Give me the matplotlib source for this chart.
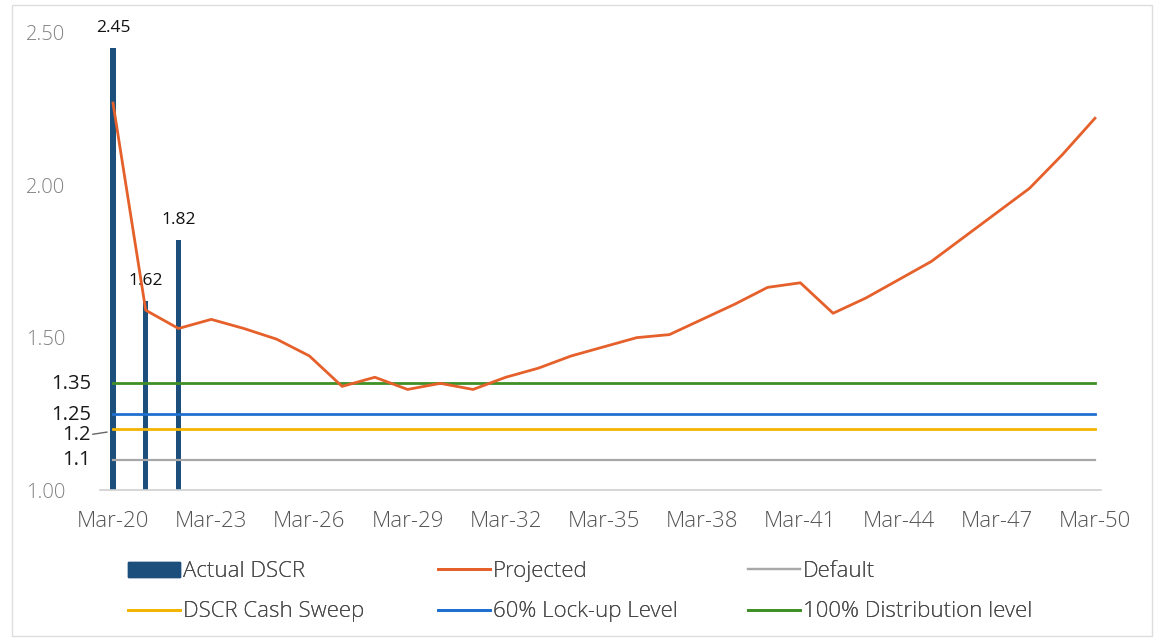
import matplotlib
matplotlib.use("Agg")
import matplotlib.pyplot as plt
import matplotlib.patches as mpatches
from matplotlib.lines import Line2D
import matplotlib.transforms as mtransforms

# ---------------- data ----------------
years = list(range(2020, 2051))
actual_years = [2020, 2021, 2022]
actual_dscr = [2.45, 1.62, 1.82]
projected = [2.27, 1.59, 1.53, 1.56, 1.53, 1.495, 1.44, 1.34, 1.37, 1.33,
             1.35, 1.33, 1.37, 1.40, 1.44, 1.47, 1.50, 1.51, 1.56, 1.61,
             1.665, 1.68, 1.58, 1.63, 1.69, 1.75, 1.83, 1.91, 1.99, 2.10, 2.22]
default_level = 1.1
cash_sweep_level = 1.2
lockup_level = 1.25
distribution_level = 1.35
xtick_years = list(range(2020, 2051, 3))
xtick_labels = ["Mar-%02d" % (y % 100) for y in xtick_years]
ytick_vals = [1.00, 1.50, 2.00, 2.50]
ytick_labels = ["1.00", "1.50", "2.00", "2.50"]
level_labels = ["1.35", "1.25", "1.2", "1.1"]
level_vals = [distribution_level, lockup_level, cash_sweep_level, default_level]

# ---------------- style ----------------
plt.rcParams['font.family'] = ['Open Sans', 'DejaVu Sans']
plt.rcParams['font.weight'] = 300

C_BAR = "#1d4f7c"
C_PROJ = "#e5602a"
C_DEF = "#a8a8a8"
C_SWEEP = "#f4b400"
C_LOCK = "#1f6fcf"
C_DIST = "#3f8f26"

W, H = 1164, 643
fig = plt.figure(figsize=(W / 100, H / 100), dpi=100)
fig.patch.set_facecolor("white")

left_px, right_px = 99.9, 1101.5
top_px, bot_px = 17.7, 490
ax = fig.add_axes([left_px / W, 1 - bot_px / H, (right_px - left_px) / W, (bot_px - top_px) / H])

bars = ax.bar(actual_years, actual_dscr, width=0.16, color=C_BAR, zorder=2)
ax.bar_label(bars, labels=["%.2f" % v for v in actual_dscr], padding=9,
             fontsize=12.5, color="#111111", fontweight="normal")

n = len(years)
ax.plot(years, [default_level] * n, color=C_DEF, lw=1.6, zorder=3)
ax.plot(years, [cash_sweep_level] * n, color=C_SWEEP, lw=2.0, zorder=3)
ax.plot(years, [lockup_level] * n, color=C_LOCK, lw=2.0, zorder=3)
ax.plot(years, [distribution_level] * n, color=C_DIST, lw=2.0, zorder=3)
ax.plot(years, projected, color=C_PROJ, lw=2.0, zorder=4)

ax.set_xlim(2019.6, 2050.2)
ax.set_ylim(1.0, 2.55)
ax.set_xticks(xtick_years)
ax.set_xticklabels(xtick_labels, fontsize=16, color="#555555")
ax.set_yticks(ytick_vals)
ax.set_yticklabels(ytick_labels, fontsize=14.5, color="#808080")
ax.tick_params(axis="x", length=0, pad=15)
ax.tick_params(axis="y", length=0, pad=25)
for s in ["top", "right", "left"]:
    ax.spines[s].set_visible(False)
ax.spines["bottom"].set_color("#d0d0d0")
ax.spines["bottom"].set_linewidth(1.2)

# extra level labels on the left
trans = mtransforms.blended_transform_factory(ax.transAxes, ax.transData)
offsets = [-0.003, -0.005, -0.018, -0.003]
for lab, v, off in zip(level_labels, level_vals, offsets):
    ax.text(-0.009, v + off, lab, transform=trans, ha="right", va="center",
            fontsize=14.5, color="#1a1a1a", fontweight="normal", clip_on=False)
ax.add_line(Line2D([-0.007, 0.007], [1.183, 1.19], transform=trans,
                   color="#666666", lw=1, clip_on=False))

# legends (three columns, two rows)
fs = 16
h_bar = mpatches.Patch(color=C_BAR)
cols = [
    ([h_bar, Line2D([], [], color=C_SWEEP, lw=2.0)], ["Actual DSCR", "DSCR Cash Sweep"], 128),
    ([Line2D([], [], color=C_PROJ, lw=2.0), Line2D([], [], color=C_LOCK, lw=2.0)],
     ["Projected", "60% Lock-up Level"], 438),
    ([Line2D([], [], color=C_DEF, lw=1.6), Line2D([], [], color=C_DIST, lw=2.0)],
     ["Default", "100% Distribution level"], 748),
]
for handles, labels, xp in cols:
    leg = fig.legend(handles, labels, loc="upper left",
                     bbox_to_anchor=(xp / W, 1 - 561 / H),
                     frameon=False, fontsize=fs, handlelength=2.35,
                     handleheight=0.65, handletextpad=0.12, labelspacing=0.86,
                     borderpad=0, borderaxespad=0)
    for t in leg.get_texts():
        t.set_color("#4a4a4a")
    fig.add_artist(leg)

# light frame around the figure
fig.add_artist(mpatches.Rectangle((12 / W, 1 - 636 / H), (1152 - 12) / W, (636 - 5) / H,
                                  transform=fig.transFigure, fill=False,
                                  edgecolor="#dddddd", lw=1))

fig.savefig("out.png", dpi=100)
